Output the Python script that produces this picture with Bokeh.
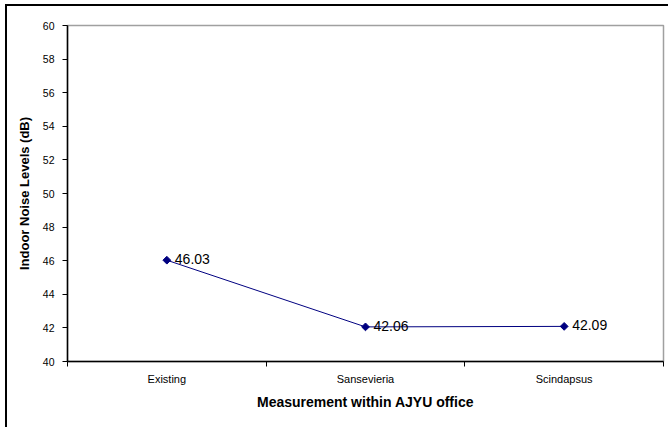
import math
from bokeh.plotting import figure
from bokeh.models import ColumnDataSource, FixedTicker, Range1d, LabelSet
from bokeh.core.properties import value
from bokeh.embed import file_html
from bokeh.resources import INLINE

categories = ["Existing", "Sansevieria", "Scindapsus"]
noise_db = [46.03, 42.06, 42.09]
value_labels = ["46.03", "42.06", "42.09"]
y_ticks = [40, 42, 44, 46, 48, 50, 52, 54, 56, 58, 60]

xs = [i + 0.5 for i in range(len(categories))]
src = ColumnDataSource(dict(x=xs, y=noise_db, lab=value_labels))

p = figure(frame_width=596, frame_height=336, output_backend="svg", toolbar_location=None,
           x_range=Range1d(0, len(categories)), y_range=Range1d(40, 60),
           min_border_left=60, min_border_right=5, min_border_top=19, min_border_bottom=70)
p.styles = {"margin-left": "5px", "margin-top": "4px",
            "border-left": "2px solid #000000", "border-top": "2px solid #000000"}
p.background_fill_color = "white"
p.border_fill_color = "white"
p.outline_line_color = "#a0a0a0"
p.outline_line_width = 1.5
p.grid.visible = False

p.line("x", "y", source=src, line_color="#000080", line_width=1)
p.scatter("x", "y", source=src, marker="square", angle=math.pi / 4, size=5.5,
          fill_color="#000080", line_color="#000080")
p.add_layout(LabelSet(x="x", y="y", text="lab", source=src, x_offset=8, y_offset=1,
                      text_baseline="middle", text_font=value("Liberation Sans"),
                      text_font_size="14px", text_color="#000000"))

xa = p.xaxis[0]
xa.ticker = FixedTicker(ticks=xs, minor_ticks=list(range(len(categories) + 1)))
xa.major_label_overrides = {x: c for x, c in zip(xs, categories)}
xa.major_tick_out = 0
xa.major_tick_in = 0
xa.minor_tick_out = 5
xa.minor_tick_in = 0
xa.minor_tick_line_color = "#000000"
xa.axis_line_color = "#000000"
xa.axis_line_width = 1.5
xa.major_label_text_font = "Liberation Sans"
xa.major_label_text_font_size = "11px"
xa.major_label_text_color = "#000000"
xa.major_label_standoff = 6
xa.axis_label = "Measurement within AJYU office"
xa.axis_label_text_font = "Liberation Sans"
xa.axis_label_text_font_style = "bold"
xa.axis_label_text_font_size = "14px"
xa.axis_label_text_color = "#000000"
xa.axis_label_standoff = 6

ya = p.yaxis[0]
ya.ticker = FixedTicker(ticks=y_ticks, minor_ticks=[])
ya.major_tick_out = 5
ya.major_tick_in = 0
ya.major_tick_line_color = "#000000"
ya.axis_line_color = "#000000"
ya.axis_line_width = 1.5
ya.major_label_text_font = "Liberation Sans"
ya.major_label_text_font_size = "10.5px"
ya.major_label_text_color = "#000000"
ya.major_label_standoff = 8
ya.axis_label = "Indoor Noise Levels (dB)"
ya.axis_label_text_font = "Liberation Sans"
ya.axis_label_text_font_style = "bold"
ya.axis_label_text_font_size = "13px"
ya.axis_label_text_color = "#000000"
ya.axis_label_standoff = 8

open("out.html", "w").write(file_html(p, INLINE))
